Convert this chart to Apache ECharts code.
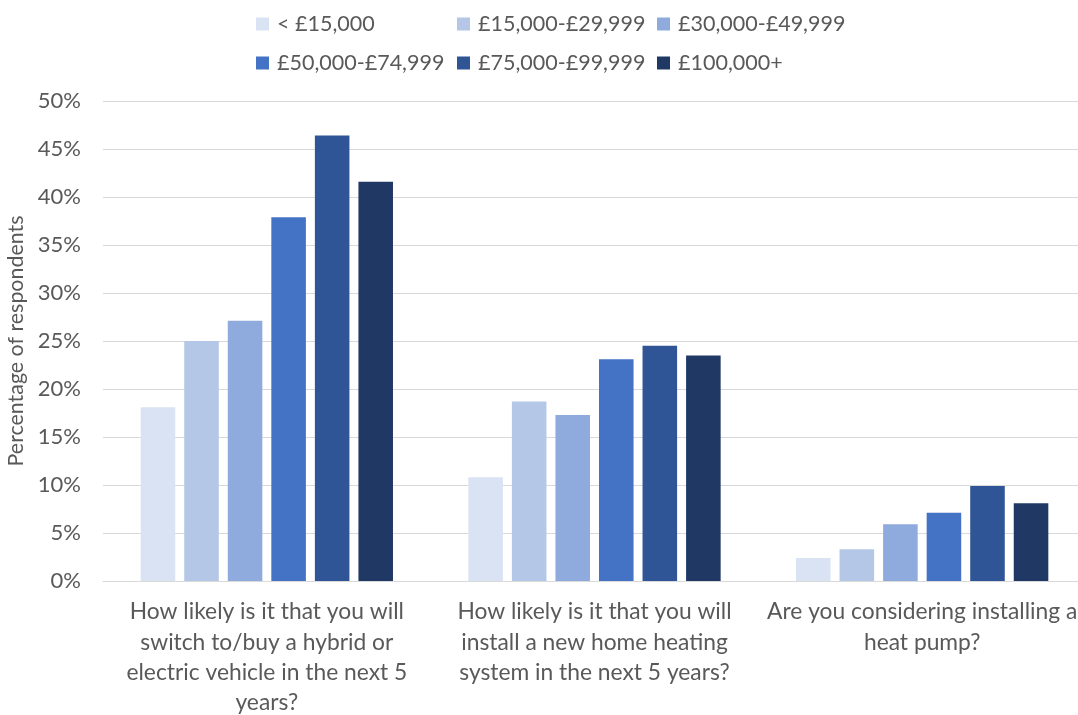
<!DOCTYPE html>
<html>
<head>
<meta charset="utf-8">
<script src="https://cdn.jsdelivr.net/npm/echarts@6/dist/echarts.min.js"></script>
<style>
  html, body { margin: 0; padding: 0; background: #ffffff; }
  #chart { width: 1078px; height: 715px; }
</style>
</head>
<body>
<div id="chart"></div>
<script>
// Survey questions (x categories)
const questions = [
  'How likely is it that you will\nswitch to/buy a hybrid or\nelectric vehicle in the next 5\nyears?',
  'How likely is it that you will\ninstall a new home heating\nsystem in the next 5 years?',
  'Are you considering installing a\nheat pump?'
];

// Household income bands
const incomeBands = ['< £15,000', '£15,000-£29,999', '£30,000-£49,999', '£50,000-£74,999', '£75,000-£99,999', '£100,000+'];

// Percentage of respondents per income band, one value per question
const under15k    = [18.1, 10.8, 2.4];
const band15to30  = [25.0, 18.7, 3.3];
const band30to50  = [27.1, 17.3, 5.9];
const band50to75  = [37.9, 23.1, 7.1];
const band75to100 = [46.4, 24.5, 9.9];
const over100k    = [41.6, 23.5, 8.1];

const bandValues = [under15k, band15to30, band30to50, band50to75, band75to100, over100k];
const bandColors = ['#DAE3F3', '#B4C7E7', '#8FAADC', '#4472C4', '#2F5597', '#203864'];

const yTicks = { min: 0, max: 50, interval: 5 };

const FONT = 'Lato, "Open Sans", sans-serif';
const TEXT = '#595959';

// Legend laid out as a 3-column grid: one legend component per entry
const legendCols = [251, 452, 652];
const legendRows = [8, 47];
const legends = incomeBands.map((name, i) => ({
  left: legendCols[i % 3],
  top: legendRows[Math.floor(i / 3)],
  data: [name],
  itemWidth: 13,
  itemHeight: 13,
  icon: 'rect',
  textStyle: { fontFamily: FONT, fontSize: 21.5, color: TEXT, padding: [0, 0, 0, 3] }
}));

const chart = echarts.init(document.getElementById('chart'));
chart.setOption({
  animation: false,
  legend: legends,
  grid: { left: 103, right: -8, top: 101, bottom: 134, containLabel: false, outerBoundsMode: 'none' },
  xAxis: {
    type: 'category',
    data: questions,
    axisTick: { show: false },
    axisLine: { lineStyle: { color: '#D9D9D9', width: 1 } },
    axisLabel: {
      interval: 0,
      margin: 16,
      fontFamily: FONT,
      fontSize: 22.8,
      lineHeight: 30.2,
      color: TEXT,
      align: 'center'
    }
  },
  yAxis: {
    type: 'value',
    min: yTicks.min,
    max: yTicks.max,
    interval: yTicks.interval,
    name: 'Percentage of respondents',
    nameLocation: 'middle',
    nameGap: 76,
    nameTextStyle: { fontFamily: FONT, fontSize: 21.4, color: TEXT },
    axisLine: { show: false },
    axisTick: { show: false },
    splitLine: { lineStyle: { color: '#D9D9D9', width: 1 } },
    axisLabel: {
      margin: 22,
      formatter: '{value}%',
      fontFamily: FONT,
      fontSize: 22,
      color: TEXT
    }
  },
  series: incomeBands.map((name, i) => ({
    name: name,
    type: 'bar',
    data: bandValues[i],
    barGap: '26%',
    barCategoryGap: '23%',
    itemStyle: { color: bandColors[i] }
  }))
});
</script>
</body>
</html>
